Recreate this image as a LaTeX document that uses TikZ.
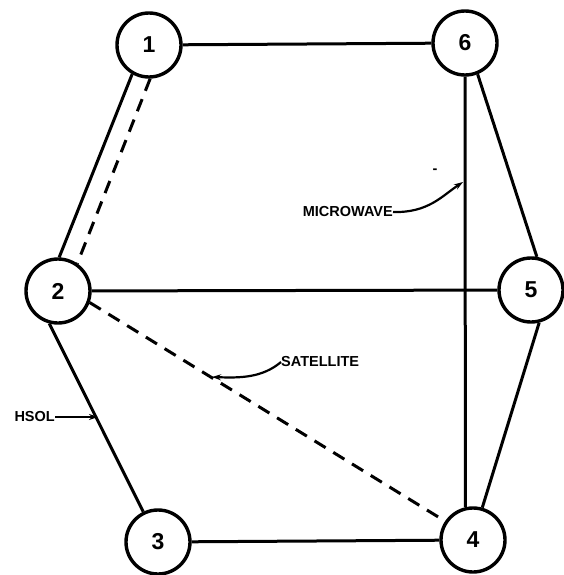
\documentclass[tikz,border=0pt]{standalone}
\usepackage{fontspec}
\setmainfont{Liberation Sans}
\usetikzlibrary{arrows.meta}
\begin{document}
\begin{tikzpicture}[x=1pt,y=-1pt,
  station/.style={circle,draw,line width=3.4pt,minimum size=64pt,inner sep=0pt,
    font=\fontsize{23}{23}\selectfont\bfseries},
  link/.style={line width=3pt},
  dashlink/.style={line width=3pt,dash pattern=on 13pt off 9pt},
  lbl/.style={font=\fontsize{14.5}{14.5}\selectfont\bfseries,inner sep=0pt},
  pointer/.style={line width=2.2pt,-{Stealth[length=9pt,width=6pt]}}]
\useasboundingbox (0,0) rectangle (564,575);
\node[station] (n1) at (149,45) {1};
\node[station] (n6) at (465,43) {6};
\node[station] (n2) at (58,291) {2};
\node[station] (n5) at (531,290) {5};
\node[station] (n3) at (158,542) {3};
\node[station] (n4) at (473,540) {4};
% links
\draw[link] (n1) -- (n6);
\draw[link] (n2) -- (n5);
\draw[link] (n3) -- (n4);
\draw[link] (n1.240) -- (n2.88);
\draw[dashlink] (n1.272) -- (n2.55);
\draw[link] (n2.-105) -- (n3.116);
\draw[dashlink] (n2.-20) -- (n4.146);
\draw[link] (n6.-68) -- (n5.80);
\draw[link] (n5.-76) -- (n4.74);
\draw[link] (n6.south) -- (n4.103);
% labels
\node[lbl,anchor=east] (mw) at (393,212) {MICROWAVE};
\coordinate (mwtip) at (463,182);
\draw[pointer] (mw.east) .. controls (428,213) and (442,196) .. (mwtip);
\node[lbl] (tick) at (435,171) {-};
\node[lbl,anchor=west] (sat) at (281,362) {SATELLITE};
\coordinate (sattip) at (212,377);
\draw[pointer] (sat.west) .. controls (262,378) and (240,378) .. (sattip);
\node[lbl,anchor=east] (hsol) at (55,417) {HSOL};
\coordinate (hsoltip) at (98,417);
\draw[pointer] (hsol.east) -- (hsoltip);
\end{tikzpicture}
\end{document}
